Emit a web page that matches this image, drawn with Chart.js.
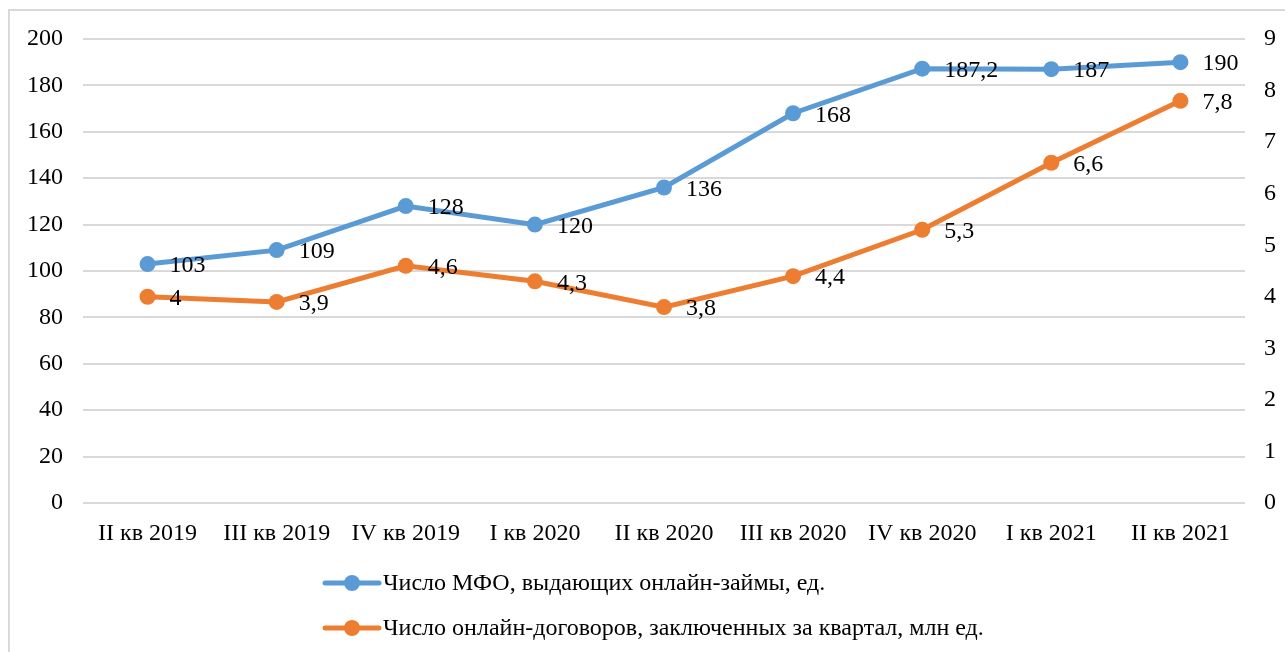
<!DOCTYPE html>
<html>
<head>
<meta charset="utf-8">
<script src="https://cdn.jsdelivr.net/npm/chart.js@4.4.1/dist/chart.umd.min.js"></script>
<style>
  html, body { margin: 0; padding: 0; background: #fff; }
  #wrap { position: relative; width: 1285px; height: 652px; overflow: hidden; }
  #frame { position: absolute; left: 8px; top: 9px; width: 1400px; height: 800px;
           border-left: 2px solid #d9d9d9; border-top: 2px solid #d9d9d9; }
  canvas { position: absolute; left: 0; top: 0; }
</style>
</head>
<body>
<div id="wrap">
  <div id="frame"></div>
  <canvas id="mfoChart" width="1285" height="652"></canvas>
</div>
<script>
const quarters = ['II кв 2019', 'III кв 2019', 'IV кв 2019', 'I кв 2020', 'II кв 2020',
                  'III кв 2020', 'IV кв 2020', 'I кв 2021', 'II кв 2021'];
const mfoCount = [103, 109, 128, 120, 136, 168, 187.2, 187, 190];
const onlineContracts = [4, 3.9, 4.6, 4.3, 3.8, 4.4, 5.3, 6.6, 7.8];
const mfoLabel = 'Число МФО, выдающих онлайн-займы, ед.';
const contractsLabel = 'Число онлайн-договоров, заключенных за квартал, млн ед.';

const FONT = '"Liberation Serif", "Times New Roman", serif';
const FONT_SIZE = 24;

// value labels to the right of each point, decimal comma
const valueLabels = {
    id: 'valueLabels',
    afterDatasetsDraw(chart) {
        const ctx = chart.ctx;
        ctx.save();
        ctx.font = FONT_SIZE + 'px ' + FONT;
        ctx.fillStyle = '#000';
        ctx.textBaseline = 'middle';
        ctx.textAlign = 'left';
        chart.data.datasets.forEach((ds, i) => {
            chart.getDatasetMeta(i).data.forEach((pt, j) => {
                const txt = String(ds.data[j]).replace('.', ',');
                ctx.fillText(txt, pt.x + 22, pt.y + 2);
            });
        });
        ctx.restore();
    }
};

// two-row legend under the axis, line sample with a marker in the middle
const stackedLegend = {
    id: 'stackedLegend',
    afterDraw(chart) {
        const ctx = chart.ctx;
        const x0 = 325, rowY = [583, 628];
        ctx.save();
        ctx.font = FONT_SIZE + 'px ' + FONT;
        ctx.textBaseline = 'middle';
        chart.data.datasets.forEach((ds, i) => {
            const y = rowY[i];
            ctx.strokeStyle = ds.borderColor;
            ctx.lineWidth = 5;
            ctx.lineCap = 'round';
            ctx.beginPath();
            ctx.moveTo(x0, y);
            ctx.lineTo(x0 + 54, y);
            ctx.stroke();
            ctx.fillStyle = ds.borderColor;
            ctx.beginPath();
            ctx.arc(x0 + 27, y, 8, 0, Math.PI * 2);
            ctx.fill();
            ctx.fillStyle = '#000';
            ctx.fillText(ds.label, x0 + 58, y + 1);
        });
        ctx.restore();
    }
};

new Chart(document.getElementById('mfoChart'), {
    type: 'line',
    data: {
        labels: quarters,
        datasets: [{
            label: mfoLabel,
            data: mfoCount,
            yAxisID: 'y',
            borderColor: '#5B9BD5',
            backgroundColor: '#5B9BD5',
            borderWidth: 5,
            pointRadius: 8,
            pointBorderWidth: 0,
            tension: 0
        }, {
            label: contractsLabel,
            data: onlineContracts,
            yAxisID: 'y1',
            borderColor: '#ED7D31',
            backgroundColor: '#ED7D31',
            borderWidth: 5,
            pointRadius: 8,
            pointBorderWidth: 0,
            tension: 0
        }]
    },
    options: {
        responsive: false,
        animation: false,
        layout: { padding: { top: 39, bottom: 89, left: 0, right: 0 } },
        plugins: {
            legend: { display: false },
            tooltip: { enabled: false }
        },
        scales: {
            x: {
                offset: true,
                grid: { display: false },
                border: { display: false },
                ticks: { color: '#000', font: { family: FONT, size: FONT_SIZE }, maxRotation: 0, padding: 8 },
                afterFit: (s) => { s.height = 60; }
            },
            y: {
                position: 'left',
                min: 0, max: 200,
                ticks: { stepSize: 20, color: '#000', font: { family: FONT, size: FONT_SIZE }, padding: 20 },
                grid: { color: '#d9d9d9', lineWidth: 2, drawTicks: false },
                border: { display: false },
                afterFit: (s) => { s.width = 83; }
            },
            y1: {
                position: 'right',
                min: 0, max: 9,
                ticks: { stepSize: 1, color: '#000', font: { family: FONT, size: FONT_SIZE }, padding: 11 },
                grid: { display: false },
                border: { display: false },
                afterFit: (s) => { s.width = 40; }
            }
        }
    },
    plugins: [valueLabels, stackedLegend]
});
</script>
</body>
</html>
